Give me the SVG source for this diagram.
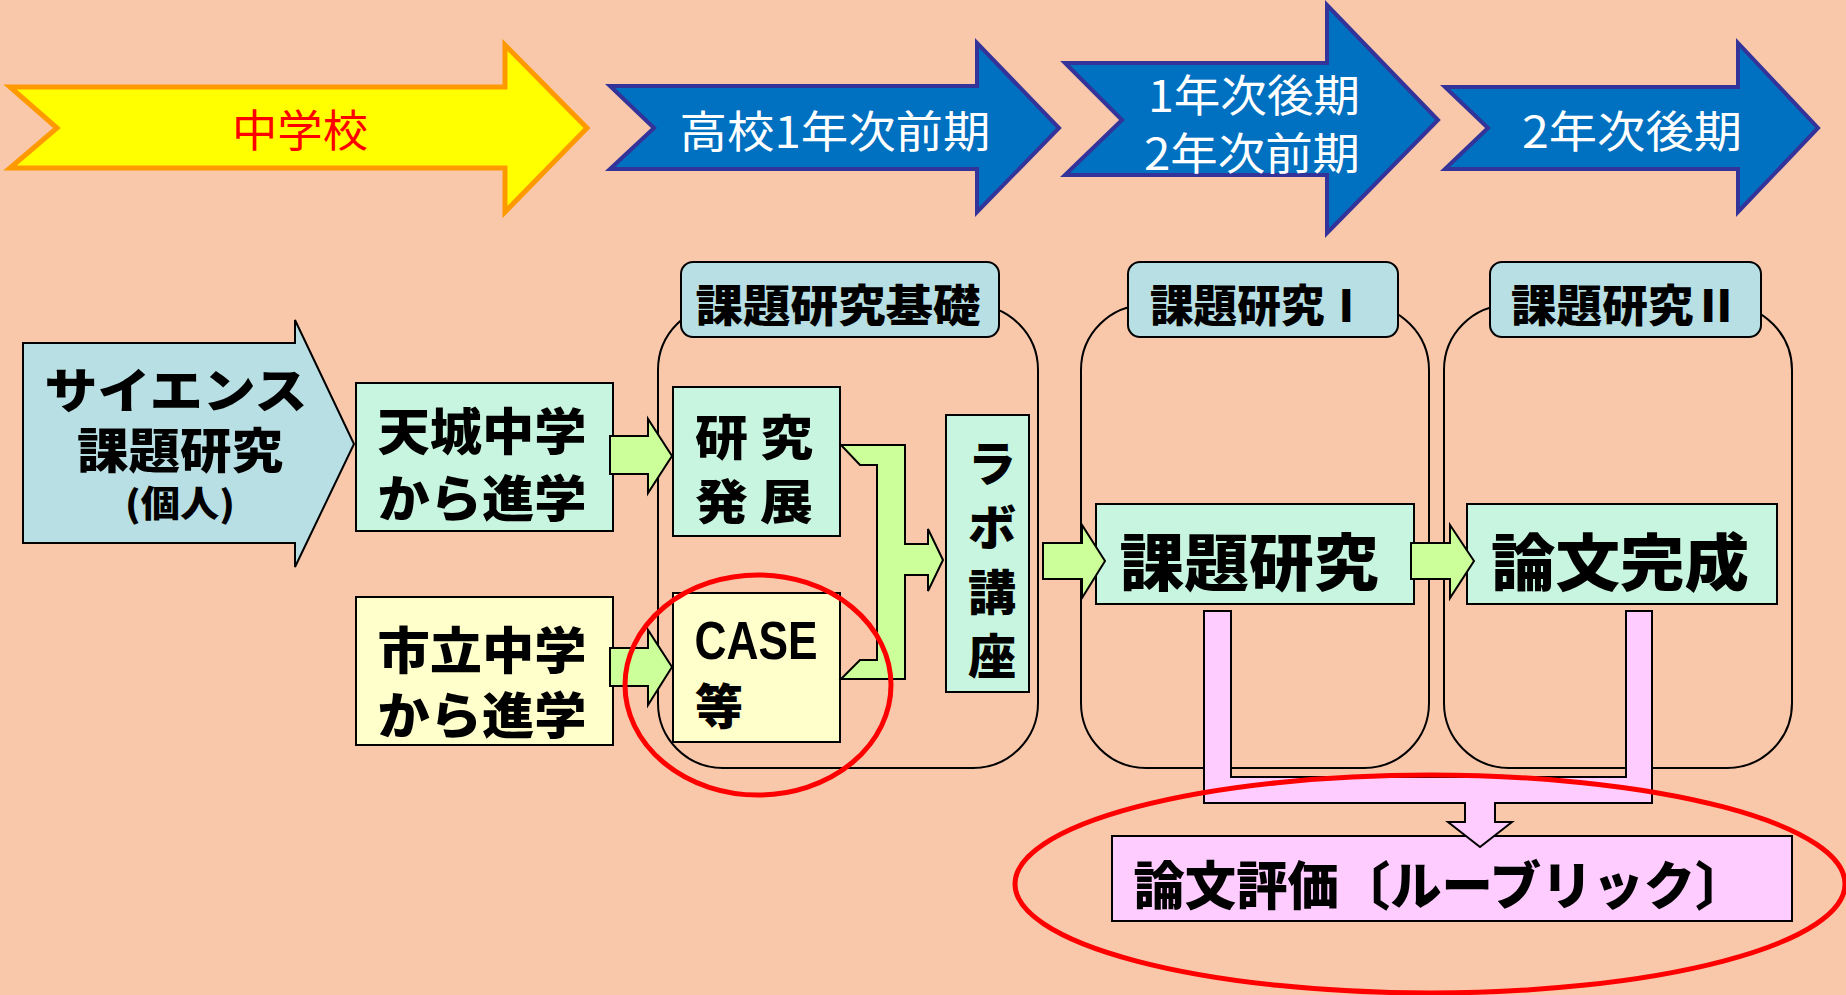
<svg xmlns="http://www.w3.org/2000/svg" width="1846" height="995" viewBox="0 0 1846 995">
<style>
.bg{fill:#F9C7AA}
.blue{fill:#0070C0;stroke:#333399;stroke-width:4;stroke-linejoin:miter}
.wt{fill:#fff;font-family:"Noto Sans CJK JP","Noto Sans",sans-serif;font-size:44px;font-weight:400;text-anchor:middle;dominant-baseline:central}
.grp{fill:none;stroke:#000;stroke-width:2}
.lbl{fill:#B8DFE3;stroke:#000;stroke-width:2}
.mint{fill:#C8F5DF;stroke:#000;stroke-width:2}
.yel{fill:#FFFFCC;stroke:#000;stroke-width:2}
.pink{fill:#FFCCFF;stroke:#000;stroke-width:2}
.grn{fill:#CCFF99;stroke:#000;stroke-width:2;stroke-linejoin:miter}
.bk{fill:#000;font-family:"Noto Sans CJK JP","Noto Sans",sans-serif;font-weight:900;text-anchor:middle;dominant-baseline:central}
.red{fill:none;stroke:#FF0000;stroke-width:5}
</style>
<rect class="bg" x="0" y="0" width="1846" height="995"/>

<g id="stage-chugakko">
<polygon points="10,87 505,87 505,45 587,128 505,212 505,168 10,168 57,128" fill="#FFFF00" stroke="#FF9900" stroke-width="5"/>
<text x="300" y="128" fill="#FF0000" font-family="'Noto Sans CJK JP',sans-serif" font-size="44" text-anchor="middle" dominant-baseline="central" textLength="136" lengthAdjust="spacingAndGlyphs">中学校</text>
</g>
<g id="stage-1">
<polygon class="blue" points="610,86 977,86 977,43 1059,128 977,212 977,169 610,169 654,128"/>
<text class="wt" x="835" y="129" textLength="311" lengthAdjust="spacingAndGlyphs">高校1年次前期</text>
</g>
<g id="stage-2">
<polygon class="blue" points="1065,63 1327,63 1327,5 1438,120 1327,233 1327,175 1065,175 1122,120"/>
<text class="wt" x="1254" y="93" textLength="212" lengthAdjust="spacingAndGlyphs">1年次後期</text>
<text class="wt" x="1252" y="151" textLength="216" lengthAdjust="spacingAndGlyphs">2年次前期</text>
</g>
<g id="stage-3">
<polygon class="blue" points="1445,87 1738,87 1738,43 1818,128 1738,212 1738,169 1445,169 1488,128"/>
<text class="wt" x="1632" y="129" textLength="220" lengthAdjust="spacingAndGlyphs">2年次後期</text>
</g>

<g id="group-kiso">
<rect class="grp" x="658" y="305" width="380" height="463" rx="65" ry="65"/>
<rect class="lbl" x="681" y="262" width="318" height="75" rx="12" ry="12"/>
<text class="bk" x="838" y="303" font-size="44" textLength="285" lengthAdjust="spacingAndGlyphs">課題研究基礎</text>
</g>
<g id="group-1">
<rect class="grp" x="1081" y="305" width="348" height="463" rx="65" ry="65"/>
<rect class="lbl" x="1128" y="262" width="270" height="75" rx="12" ry="12"/>
<text class="bk" x="1259" y="303" font-size="44" textLength="218" lengthAdjust="spacingAndGlyphs">課題研究Ⅰ</text>
</g>
<g id="group-2">
<rect class="grp" x="1444" y="305" width="348" height="463" rx="65" ry="65"/>
<rect class="lbl" x="1490" y="262" width="271" height="75" rx="12" ry="12"/>
<text class="bk" x="1625" y="303" font-size="44" textLength="228" lengthAdjust="spacingAndGlyphs">課題研究Ⅱ</text>
</g>

<g id="science">
<polygon points="23,343 295,343 295,320 354,444 295,567 295,543 23,543" fill="#B8DFE3" stroke="#000" stroke-width="2"/>
<text class="bk" x="176" y="387" font-size="48" textLength="263" lengthAdjust="spacingAndGlyphs">サイエンス</text>
<text class="bk" x="180" y="447" font-size="48" textLength="206" lengthAdjust="spacingAndGlyphs">課題研究</text>
<text class="bk" x="180" y="501" font-size="36" textLength="110" lengthAdjust="spacingAndGlyphs">(個人)</text>
</g>
<g id="amagi">
<rect class="mint" x="356" y="383" width="257" height="148"/>
<text class="bk" x="482" y="428" font-size="50" textLength="209" lengthAdjust="spacingAndGlyphs">天城中学</text>
<text class="bk" x="482" y="495" font-size="50" textLength="209" lengthAdjust="spacingAndGlyphs">から進学</text>
</g>
<g id="shiritsu">
<rect class="yel" x="356" y="597" width="257" height="148"/>
<text class="bk" x="482" y="647" font-size="50" textLength="209" lengthAdjust="spacingAndGlyphs">市立中学</text>
<text class="bk" x="482" y="712" font-size="50" textLength="209" lengthAdjust="spacingAndGlyphs">から進学</text>
</g>
<g id="kenkyu-hatten">
<rect class="mint" x="673" y="387" width="167" height="149"/>
<text class="bk" x="754" y="434" font-size="48" textLength="118" lengthAdjust="spacingAndGlyphs">研 究</text>
<text class="bk" x="754" y="498" font-size="48" textLength="118" lengthAdjust="spacingAndGlyphs">発 展</text>
</g>
<g id="case">
<rect class="yel" x="673" y="593" width="167" height="149"/>
<text class="bk" x="756" y="640" font-size="54" textLength="123" lengthAdjust="spacingAndGlyphs" style="font-family:'Liberation Sans',sans-serif;font-weight:700">CASE</text>
<text class="bk" x="719" y="703" font-size="48">等</text>
</g>
<g id="labo">
<rect class="mint" x="946" y="415" width="83" height="277"/>
<text class="bk" x="992" y="460" font-size="48">ラ</text>
<text class="bk" x="992" y="524" font-size="48">ボ</text>
<text class="bk" x="992" y="589" font-size="48">講</text>
<text class="bk" x="992" y="653" font-size="48">座</text>
</g>
<g id="kadai">
<rect class="mint" x="1096" y="504" width="318" height="100"/>
<text class="bk" x="1249" y="559" font-size="62" textLength="259" lengthAdjust="spacingAndGlyphs">課題研究</text>
</g>
<g id="ronbun">
<rect class="mint" x="1467" y="504" width="310" height="100"/>
<text class="bk" x="1620" y="559" font-size="62" textLength="258" lengthAdjust="spacingAndGlyphs">論文完成</text>
</g>
<g id="hyoka">
<rect class="pink" x="1112" y="836" width="680" height="85"/>
<text class="bk" x="1440" y="882" font-size="52" textLength="613" lengthAdjust="spacingAndGlyphs">論文評価〔ルーブリック〕</text>
</g>

<g id="connectors">
<polygon class="grn" points="610,436 648,436 648,419 672,456 648,493 648,474 610,474"/>
<polygon class="grn" points="610,648 648,648 648,630 672,667 648,705 648,686 610,686"/>
<polygon class="grn" points="841,445 905,445 905,544 928,544 928,529 943,560 928,591 928,575 905,575 905,679 841,679 860,660 877,660 877,465 860,465"/>
<polygon class="grn" points="1043,543 1082,543 1082,525 1105,561 1082,598 1082,579 1043,579"/>
<polygon class="grn" points="1411,543 1450,543 1450,525 1474,561 1450,598 1450,579 1411,579"/>
<polygon class="pink" points="1204,611 1231,611 1231,777 1626,777 1626,611 1652,611 1652,803 1495,803 1495,822 1512,822 1480,847 1448,822 1465,822 1465,803 1204,803"/>
</g>

<g id="highlights">
<ellipse class="red" cx="758" cy="685" rx="133" ry="110"/>
<ellipse class="red" cx="1430" cy="884" rx="415" ry="109"/>
</g>
</svg>
